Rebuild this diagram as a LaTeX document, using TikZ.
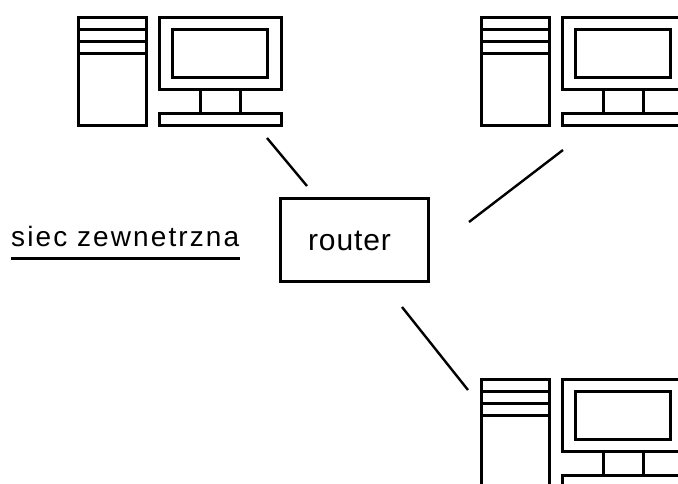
\documentclass[tikz,border=0pt]{standalone}
\usepackage{fontspec}
\setmainfont{Liberation Sans}
\newfontfamily\spacedfont[LetterSpace=7.5]{Liberation Sans}
\newfontfamily\routerfont[LetterSpace=3]{Liberation Sans}
\tikzset{
  outline/.style={draw=black,line width=3pt,line join=miter},
  wire/.style={draw=black,line width=2.4pt},
  extlabelstyle/.style={inner sep=0pt,font=\spacedfont\fontsize{28}{32}\selectfont,text=black},
  routerlabelstyle/.style={inner sep=0pt,font=\routerfont\fontsize{30}{34}\selectfont,text=black},
  pics/computer/.style={code={
    \draw[outline] (78,17) rectangle (146,125);
    \draw[outline] (78,29) -- (146,29) (78,41) -- (146,41) (78,53) -- (146,53);
    \draw[outline] (159,17) rectangle (281,89);
    \draw[outline] (172,29) rectangle (267,77);
    \draw[outline] (200,89) -- (200,113) (240,89) -- (240,113);
    \draw[outline] (159,113) rectangle (281,125);
  }}
}
\begin{document}
\begin{tikzpicture}[x=1pt,y=-1pt]
\useasboundingbox (0,0) rectangle (678,483);
\clip (0,0) rectangle (678,483);
\pic at (0,0) {computer};
\pic at (403,0) {computer};
\pic at (403,362) {computer};
\node[outline,minimum width=148pt,minimum height=83pt,inner sep=0pt] (router) at (354,239.5) {};
\node[routerlabelstyle,anchor=base] (routertext) at (349.5,250) {router};
\node[extlabelstyle,anchor=base west] (extlabel) at (11,246) {siec zewnetrzna};
\coordinate (a1) at (267,138); \coordinate (a2) at (307,186);
\coordinate (b1) at (563,150); \coordinate (b2) at (469,222);
\coordinate (c1) at (402,307); \coordinate (c2) at (468,390);
\coordinate (u1) at (11,258); \coordinate (u2) at (240,258);
\draw[wire] (a1) -- (a2);
\draw[wire] (b1) -- (b2);
\draw[wire] (c1) -- (c2);
\draw[outline] (u1) -- (u2);
\end{tikzpicture}
\end{document}
